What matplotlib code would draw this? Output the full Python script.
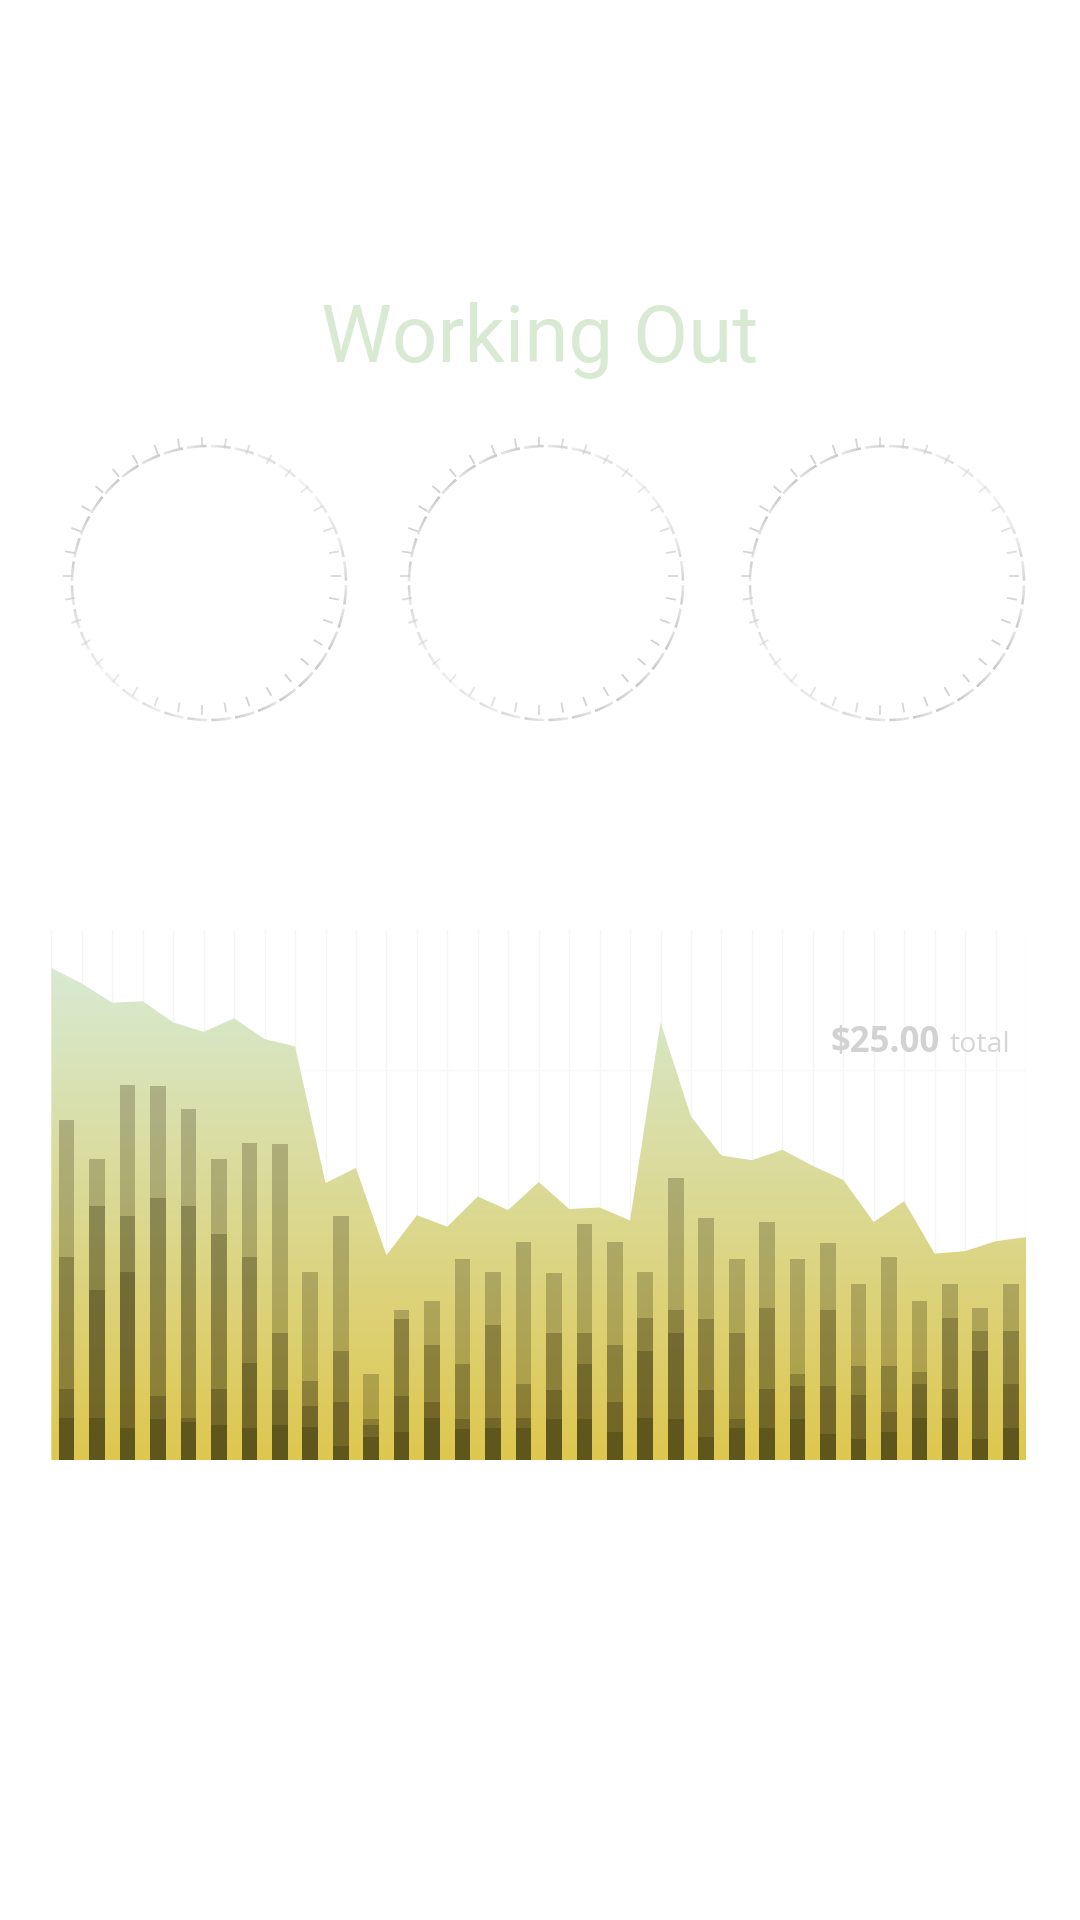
import numpy as np
import matplotlib
matplotlib.use('Agg')
import matplotlib.pyplot as plt
from matplotlib.lines import Line2D

# Title and total label
title = 'Working Out'
total_value = '$25.00'
total_word = 'total'

# Area line: one point per vertical gridline
area_vals = [94.7, 91.7, 88.0, 88.3, 84.2, 82.4, 85.0, 81.0, 79.6, 53.3, 56.2,
             39.4, 47.1, 44.9, 50.7, 48.1, 53.5, 48.3, 48.6, 46.1, 84.2, 66.1,
             58.6, 57.7, 59.7, 56.6, 53.9, 45.8, 49.8, 39.7, 40.2, 42.1, 42.9]

# Overlapping bar series (same colour, drawn on top of each other)
series_a = [65.5, 57.9, 72.2, 72.0, 67.5, 57.9, 61.1, 60.9, 36.2, 46.9, 16.6,
            28.8, 30.6, 38.7, 36.2, 41.9, 35.9, 45.4, 41.9, 36.2, 54.2, 46.6,
            38.7, 45.8, 38.7, 41.7, 33.8, 39.0, 30.6, 33.8, 29.2, 33.8]
series_b = [39.0, 48.9, 46.9, 50.4, 48.9, 43.4, 39.0, 24.5, 15.2, 21.0, 7.9,
            27.1, 22.1, 18.4, 25.9, 14.6, 24.5, 24.5, 22.1, 27.4, 28.8, 27.1,
            24.5, 29.2, 16.6, 28.8, 18.1, 18.1, 17.0, 27.4, 24.8, 24.8]
series_c = [13.7, 32.7, 36.2, 12.3, 8.1, 13.7, 18.6, 13.4, 10.4, 11.1, 6.7,
            12.3, 11.1, 7.9, 8.1, 8.1, 13.5, 18.4, 11.1, 21.0, 24.5, 13.5,
            7.9, 13.7, 14.3, 14.3, 12.6, 9.3, 14.6, 13.7, 21.0, 14.6]
series_d = [8.1, 8.1, 6.2, 7.9, 7.4, 6.7, 6.2, 6.7, 6.4, 2.7, 4.4,
            5.3, 8.1, 5.9, 6.2, 6.2, 7.9, 7.9, 5.3, 8.1, 7.9, 4.4,
            6.2, 6.2, 7.9, 5.0, 4.0, 5.3, 8.1, 8.1, 4.0, 6.2]

W, H = 1080, 1920
fig = plt.figure(figsize=(W / 100, H / 100), dpi=100)
fig.patch.set_facecolor('white')

# Background axes in pixel coordinates for the dials
bg = fig.add_axes([0, 0, 1, 1])
bg.set_xlim(0, W)
bg.set_ylim(H, 0)
bg.axis('off')

# Title
fig.text(0.5, 1 - 362 / H, title, ha='center', va='baseline',
         fontsize=57.5, family='Roboto', color='#d9ead3')

# Three dials
dial_centers = [(209, 583), (546, 583), (887, 583)]
r = 137
n_ticks = 36
for cx, cy in dial_centers:
    for i in range(n_ticks):
        th0 = np.deg2rad(i * 360 / n_ticks)
        th1 = np.deg2rad((i + 1) * 360 / n_ticks - 1.0)
        mid = (th0 + th1) / 2
        # fainter on the upper-right / lower-left diagonal
        f = abs(np.cos(mid - np.deg2rad(135)))
        a = 0.3 + 0.7 * f
        t = np.linspace(th0 + np.deg2rad(0.8), th1, 12)
        # arc segment, darker towards its end
        for k in range(len(t) - 1):
            shade = 0.88 - 0.12 * k / (len(t) - 2)
            bg.add_line(Line2D(cx + r * np.sin(t[k:k + 2]), cy - r * np.cos(t[k:k + 2]),
                               color=(shade, shade, shade), alpha=a, lw=1.8,
                               solid_capstyle='butt'))
        # tick, from a centre shifted up-left
        tx, ty = cx - 7, cy - 7.5
        fa = 0.4 + 0.5 * abs(np.cos(th0 - np.deg2rad(135)))
        bg.add_line(Line2D([tx + 129 * np.sin(th0), tx + 139 * np.sin(th0)],
                           [ty - 129 * np.cos(th0), ty - 139 * np.cos(th0)],
                           color='#cccccc', alpha=fa, lw=1.3, solid_capstyle='butt'))

# Main chart
left, right, top, bottom = 51.4, 1026, 930, 1460
ax = fig.add_axes([left / W, 1 - bottom / H, (right - left) / W, (bottom - top) / H])
ax.set_facecolor('none')

x_pts = np.arange(len(area_vals))
n_bars = len(series_a)

# faint gridlines
for gx in x_pts:
    ax.axvline(gx, color='#f5f5f5', lw=1, zorder=0)
ax.axhline(75, color='#f8f8f8', lw=1, zorder=0)

# gradient fill under the area line
c_top = np.array([216, 234, 211]) / 255
c_bot = np.array([222, 199, 78]) / 255
g = np.linspace(0, 1, 256)[:, None]
grad = c_top[None, :] * (1 - g) + c_bot[None, :] * g
grad = np.repeat(grad[:, None, :], 2, axis=1)
poly = ax.fill(np.r_[x_pts, x_pts[-1], x_pts[0]], np.r_[area_vals, 0, 0],
               facecolor='none', edgecolor='none')[0]
im = ax.imshow(grad, extent=[0, x_pts[-1], 0, 95], aspect='auto', origin='upper', zorder=1)
im.set_clip_path(poly)

# overlapping translucent bars
bar_x = np.arange(n_bars) + 0.5
for s in [series_a, series_b, series_c, series_d]:
    ax.bar(bar_x, s, width=0.515, color=(0.17, 0.15, 0.03), alpha=0.26,
           edgecolor='none', zorder=3)

ax.set_xlim(0, x_pts[-1])
ax.set_ylim(0, 102)
ax.axis('off')

# total label
fig.text(1010 / W, 1 - 1052 / H, total_word, ha='right', va='baseline',
         fontsize=20.5, family='Open Sans', color='#d6d6d6')
fig.text(940 / W, 1 - 1052 / H, total_value, ha='right', va='baseline',
         fontsize=25, family='Open Sans', fontweight='bold', color='#d2d2d2')

fig.savefig('out.png', dpi=100, facecolor='white')
